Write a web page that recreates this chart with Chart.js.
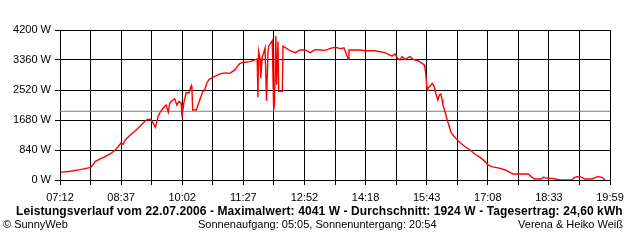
<!DOCTYPE html>
<html>
<head>
<meta charset="utf-8">
<script src="https://cdn.jsdelivr.net/npm/chart.js@4"></script>
<style>
  body { margin: 0; background: #fff; }
  #wrap { position: relative; width: 640px; height: 240px; font-family: 'Liberation Sans', Arial, sans-serif; color: #000; }
  #powerChart { position: absolute; left: 0; top: 0; }
  .txt { position: absolute; font-size: 11px; line-height: 13px; white-space: nowrap; }
  #title { left: 16px; top: 205px; font-size: 12px; font-weight: bold; letter-spacing: 0.1px; }
  #copy { left: 3px; top: 218px; }
  #sun { left: 198px; top: 218px; }
  #names { right: 17px; top: 218px; }
</style>
</head>
<body>
<div id="wrap">
  <canvas id="powerChart" width="640" height="240"></canvas>
  <div class="txt" id="title">Leistungsverlauf vom 22.07.2006 - Maximalwert: 4041 W - Durchschnitt: 1924 W - Tagesertrag: 24,60 kWh</div>
  <div class="txt" id="copy">© SunnyWeb</div>
  <div class="txt" id="sun">Sonnenaufgang: 05:05, Sonnenuntergang: 20:54</div>
  <div class="txt" id="names">Verena &amp; Heiko Weiß</div>
</div>
<script>
// time of reading and power in W
const times = ['07:13', '07:26', '07:40', '07:55', '08:01', '08:08', '08:15', '08:22', '08:29', '08:33',
    '08:37', '08:40', '08:43', '08:50', '08:57', '09:04', '09:11', '09:15', '09:19', '09:22',
    '09:25', '09:29', '09:32', '09:36', '09:40', '09:43', '09:45', '09:48', '09:52', '09:55',
    '09:58', '10:01', '10:02', '10:05', '10:08', '10:12', '10:15', '10:16', '10:17', '10:22',
    '10:26', '10:31', '10:34', '10:37', '10:40', '10:45', '10:55', '11:03', '11:09', '11:16',
    '11:23', '11:27', '11:37', '11:42', '11:47', '11:48', '11:49', '11:51', '11:52', '11:54',
    '11:56', '11:58', '12:00', '12:02', '12:03', '12:08', '12:10', '12:11', '12:13', '12:14',
    '12:16', '12:17', '12:22', '12:23', '12:33', '12:40', '12:47', '12:54', '13:01', '13:08',
    '13:15', '13:22', '13:29', '13:36', '13:43', '13:48', '13:54', '13:55', '14:10', '14:19',
    '14:31', '14:45', '14:55', '14:59', '15:03', '15:06', '15:09', '15:13', '15:20', '15:24',
    '15:31', '15:37', '15:40', '15:41', '15:42', '15:44', '15:45', '15:48', '15:51', '15:54',
    '15:56', '15:59', '16:01', '16:03', '16:05', '16:06', '16:09', '16:12', '16:15', '16:17',
    '16:20', '16:24', '16:30', '16:37', '16:44', '16:51', '16:58', '17:05', '17:09', '17:14',
    '17:26', '17:33', '17:40', '17:44', '18:05', '18:09', '18:14', '18:23', '18:26', '18:33',
    '18:40', '18:44', '18:49', '19:06', '19:09', '19:13', '19:19', '19:24', '19:34', '19:38',
    '19:42', '19:48', '19:52'];
const watts = [215, 245, 290, 355, 515, 590, 655, 730, 840, 930,
    1040, 1000, 1120, 1260, 1380, 1510, 1660, 1700, 1690, 1590,
    1475, 1790, 1910, 2015, 2100, 1900, 2150, 2220, 2270, 2100,
    2200, 2150, 1770, 2190, 2445, 2445, 2640, 2550, 1960, 1960,
    2190, 2470, 2540, 2725, 2820, 2875, 2970, 3000, 2985, 3090,
    3265, 3290, 3315, 3350, 3390, 2315, 3600, 3400, 2855, 3450,
    3555, 3695, 2220, 3555, 3740, 3900, 1970, 2100, 4041, 2670,
    3880, 2485, 2485, 3750, 3620, 3565, 3640, 3640, 3565, 3650,
    3640, 3630, 3685, 3715, 3680, 3700, 3380, 3640, 3640, 3620,
    3620, 3565, 3470, 3530, 3405, 3360, 3455, 3380, 3455, 3380,
    3340, 3265, 3220, 3125, 2985, 2520, 2565, 2630, 2705, 2610,
    2430, 2240, 2380, 2410, 2240, 2100, 1910, 1680, 1490, 1350,
    1260, 1165, 1045, 930, 840, 720, 635, 515, 420, 375,
    325, 280, 205, 170, 170, 95, 28, 28, 75, 45,
    45, 20, 0, 0, 65, 95, 80, 28, 28, 65,
    95, 75, 0];
const average = 1924;
const xTickLabels = ['07:12', '08:37', '10:02', '11:27', '12:52', '14:18', '15:43', '17:08', '18:33', '19:59'];
const yTicks = [0, 840, 1680, 2520, 3360, 4200];

const toMin = s => { const p = s.split(':'); return +p[0] * 60 + +p[1]; };
const xMin = toMin(xTickLabels[0]);
const xMax = toMin(xTickLabels[xTickLabels.length - 1]);
const gridSteps = (xTickLabels.length - 1) * 2;

const fontFamily = "'Liberation Sans', Arial, sans-serif";

// redraw the bottom axis line on top of the data
const axisOnTop = {
    id: 'axisOnTop',
    afterDatasetsDraw(chart) {
        const a = chart.chartArea;
        const ctx = chart.ctx;
        ctx.save();
        ctx.strokeStyle = '#000';
        ctx.lineWidth = 1;
        ctx.beginPath();
        ctx.moveTo(a.left, Math.round(a.bottom) + 0.5);
        ctx.lineTo(a.right + 1, Math.round(a.bottom) + 0.5);
        ctx.stroke();
        ctx.restore();
    }
};

const ctx = document.getElementById('powerChart');
const powerChart = new Chart(ctx, {
    type: 'line',
    data: {
        datasets: [{
            label: 'Leistung',
            data: times.map((t, i) => ({ x: toMin(t), y: watts[i] })),
            borderColor: '#ff0000',
            borderWidth: 1.4,
            pointRadius: 0,
            tension: 0,
            fill: false,
            order: 0
        }, {
            label: 'Durchschnitt',
            data: [{ x: xMin, y: average }, { x: xMax, y: average }],
            borderColor: '#808080',
            borderWidth: 1,
            pointRadius: 0,
            fill: false,
            order: 1
        }]
    },
    options: {
        responsive: false,
        animation: false,
        layout: { padding: { top: 30, right: 30, bottom: 35, left: 0 } },
        plugins: {
            legend: { display: false },
            tooltip: { enabled: false }
        },
        scales: {
            x: {
                type: 'linear',
                min: xMin,
                max: xMax,
                afterFit: scale => { scale.height = 25; },
                afterBuildTicks: scale => {
                    const ticks = [];
                    for (let i = 0; i <= gridSteps; i++) {
                        ticks.push({ value: xMin + i * (xMax - xMin) / gridSteps });
                    }
                    scale.ticks = ticks;
                },
                grid: { color: '#000', lineWidth: 1, tickLength: 5, tickColor: '#000' },
                border: { color: '#000' },
                ticks: {
                    autoSkip: false,
                    maxRotation: 0,
                    padding: 6,
                    color: '#000',
                    font: { family: fontFamily, size: 11 },
                    callback: (v, i) => i % 2 === 0 ? xTickLabels[i / 2] : ''
                }
            },
            y: {
                min: yTicks[0],
                max: yTicks[yTicks.length - 1],
                afterFit: scale => { scale.width = 60; },
                afterBuildTicks: scale => { scale.ticks = yTicks.map(v => ({ value: v })); },
                grid: { color: '#000', lineWidth: 1, tickLength: 5, tickColor: '#000' },
                border: { color: '#000' },
                ticks: {
                    padding: 4,
                    color: '#000',
                    font: { family: fontFamily, size: 11 },
                    callback: v => v + ' W'
                }
            }
        }
    },
    plugins: [axisOnTop]
});
</script>
</body>
</html>
